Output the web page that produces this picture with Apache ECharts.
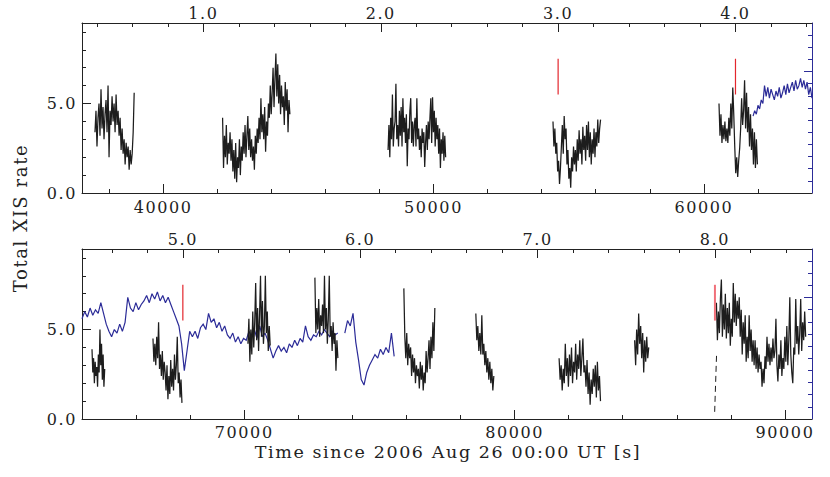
<!DOCTYPE html>
<html><head><meta charset="utf-8">
<script src="https://cdn.jsdelivr.net/npm/echarts@6/dist/echarts.min.js"></script>
<style>html,body{margin:0;padding:0;background:#fff}#c{width:830px;height:477px}#c svg text{letter-spacing:1.6px}</style>
</head><body><div id="c"></div>
<script>
// ---------------- data ----------------
const PERIOD = 6560;          // seconds per phase unit (top axes)
const PHASE1_TIME = 41490;    // time of phase 1.0
const topRange = [37000, 64000];
const botRange = [64000, 91000];
const yRange = [0, 9.5];
const rightRange = [0, 14];

const timeMajorTop = [40000, 50000, 60000];
const timeMinorTop = [38000, 42000, 44000, 46000, 48000, 52000, 54000, 56000, 58000, 62000];
const timeMajorBot = [70000, 80000, 90000];
const timeMinorBot = [66000, 68000, 72000, 74000, 76000, 78000, 82000, 84000, 86000, 88000];
const phaseLabelsTop = [1, 2, 3, 4];
const phaseMinorTop = [0.4, 0.6, 0.8, 1.2, 1.4, 1.6, 1.8, 2.2, 2.4, 2.6, 2.8, 3.2, 3.4, 3.6, 3.8, 4.2, 4.4];
const phaseLabelsBot = [5, 6, 7, 8];
const phaseMinorBot = [4.6, 4.8, 5.2, 5.4, 5.6, 5.8, 6.2, 6.4, 6.6, 6.8, 7.2, 7.4, 7.6, 7.8, 8.2, 8.4];
const yMajor = [0, 5];
const yMinor = [1, 2, 3, 4, 6, 7, 8, 9];
const rightMajor = [10];
const rightMinor = [1, 2, 3, 4, 5, 6, 7, 8, 9, 11, 12, 13];

const markerPhasesTop = [3, 4];
const markerPhasesBot = [5, 8];
const markerRange = [5.5, 7.5];

// black (XIS) segments, top panel: [start, end] and rates
const seg1Span = [37480, 38930];
const seg1 = [3.4, 4.6, 2.6, 4.2, 5.0, 3.2, 5.8, 3.6, 4.8, 3.0, 4.4, 5.2, 3.4, 6.0, 2.0, 4.6, 3.8, 5.4, 4.0, 5.0, 3.4, 5.5, 3.8, 4.6, 3.2, 4.2, 2.4, 3.6, 2.2, 3.0, 1.6, 2.8, 2.0, 2.6, 1.3, 2.4, 1.6, 2.2, 3.4, 5.6];
const seg2Span = [42200, 44690];
const seg2 = [4.2, 1.4, 3.2, 2.0, 3.8, 1.6, 2.8, 2.2, 3.4, 1.8, 3.0, 1.2, 2.4, 0.8, 2.8, 0.6, 2.0, 1.4, 3.0, 1.0, 2.6, 1.8, 3.4, 2.2, 3.8, 2.0, 3.2, 4.3, 2.4, 3.6, 2.0, 3.0, 1.8, 2.6, 1.3, 3.2, 2.2, 3.6, 2.8, 4.2, 3.0, 5.3, 3.4, 4.4, 3.0, 4.8, 2.3, 4.0, 3.2, 5.0, 4.2, 6.0, 4.4, 5.6, 7.0, 4.8, 6.4, 7.8, 5.4, 7.2, 5.0, 6.6, 4.4, 6.0, 4.8, 5.4, 3.8, 6.2, 4.6, 5.8, 3.4, 5.2, 4.4];
const seg3Span = [48320, 50450];
const seg3 = [2.4, 3.8, 2.0, 4.2, 3.0, 5.5, 2.6, 3.6, 4.0, 6.1, 3.0, 3.8, 2.6, 4.6, 3.2, 4.8, 2.6, 5.3, 3.4, 4.2, 2.8, 4.4, 1.5, 3.6, 3.0, 4.6, 5.3, 2.8, 4.0, 2.6, 3.8, 4.2, 2.6, 5.3, 3.0, 3.6, 2.4, 3.2, 2.0, 3.6, 2.8, 3.4, 1.45, 2.8, 3.8, 2.4, 4.0, 3.0, 4.2, 5.3, 2.8, 5.35, 3.4, 4.6, 2.6, 4.2, 3.0, 3.8, 2.2, 3.6, 1.4, 3.0, 2.2, 3.4, 1.8, 3.2, 2.0];
const seg4Span = [54420, 56180];
const seg4 = [4.0, 2.6, 3.6, 2.2, 2.8, 1.2, 1.8, 0.5, 1.4, 2.6, 3.8, 2.2, 4.3, 3.0, 3.6, 1.6, 2.4, 0.8, 1.4, 0.3, 2.0, 1.2, 2.6, 1.6, 2.4, 1.2, 3.0, 1.8, 3.5, 2.2, 3.0, 1.6, 3.7, 2.4, 3.2, 1.8, 3.8, 2.4, 4.0, 2.0, 3.4, 1.6, 3.0, 2.2, 3.6, 2.0, 3.4, 2.6, 4.1, 2.8, 3.6, 4.1];
const seg5Span = [60560, 61980];
const seg5 = [5.0, 3.2, 4.4, 2.8, 3.8, 3.0, 4.0, 2.9, 3.6, 2.8, 4.2, 3.2, 5.0, 3.6, 5.9, 4.4, 2.6, 1.1, 2.0, 0.9, 1.8, 2.5, 3.6, 5.3, 3.8, 4.6, 6.3, 3.6, 5.6, 3.4, 4.8, 2.6, 4.4, 2.4, 3.6, 1.6, 3.4, 1.4, 3.0, 1.6];

// blue curve, top panel
const blueTopSpan = [61820, 64000];
const blueTop = [4.3, 4.6, 4.4, 4.9, 4.7, 5.2, 5.0, 6.0, 5.4, 5.9, 5.3, 5.8, 5.5, 5.2, 5.7, 5.4, 5.9, 5.3, 5.6, 6.0, 5.5, 6.1, 5.6, 5.9, 6.2, 5.7, 6.3, 5.8, 6.0, 6.4, 5.9, 6.3, 5.8, 6.2, 5.5, 5.9, 5.3];

// black segments, bottom panel
const b1Span = [64370, 64840];
const b1 = [3.9, 2.6, 3.4, 2.0, 3.2, 2.4, 2.9, 1.8, 3.6, 2.6, 5.0, 3.0, 4.2, 2.2, 3.6, 1.8, 2.8];
const b2Span = [66625, 67697];
const b2 = [4.5, 3.2, 4.2, 3.0, 4.6, 3.4, 5.4, 2.8, 3.6, 2.4, 3.8, 2.2, 3.2, 2.6, 1.6, 3.0, 1.1, 2.4, 1.4, 3.3, 1.8, 2.8, 1.6, 3.6, 2.2, 3.0, 4.6, 2.0, 2.6, 1.2, 2.2, 0.9];
const b3Span = [70137, 70961];
const b3 = [4.2, 5.6, 3.2, 5.0, 3.6, 6.0, 4.0, 5.4, 7.6, 4.4, 6.2, 3.8, 5.8, 8.0, 4.6, 6.6, 4.2, 5.2, 8.0, 4.8, 6.0, 3.8, 5.2, 4.1];
const b4Span = [72614, 73464];
const b4 = [7.9, 4.8, 6.2, 5.0, 6.7, 4.6, 5.8, 5.2, 6.4, 4.8, 8.0, 5.0, 6.2, 4.2, 5.6, 8.0, 4.6, 5.2, 3.8, 5.4, 4.2, 4.8, 2.7, 4.4, 3.4];
const b5Span = [75904, 77050];
const b5 = [7.3, 4.6, 3.4, 4.8, 3.0, 4.2, 3.4, 4.0, 2.4, 3.6, 2.6, 3.4, 2.0, 3.0, 2.4, 2.8, 1.7, 3.2, 2.2, 3.0, 1.6, 2.6, 2.0, 3.8, 2.6, 3.4, 4.4, 2.8, 4.6, 3.4, 5.4, 3.8, 6.2];
const b6Span = [78566, 79232];
const b6 = [5.9, 4.4, 5.2, 3.8, 4.8, 3.6, 5.8, 3.6, 4.2, 3.0, 3.8, 2.6, 3.4, 2.2, 3.2, 2.0, 2.8, 1.6, 2.4];
const b7Span = [81646, 83177];
const b7 = [3.4, 2.2, 3.0, 1.6, 2.8, 2.0, 4.2, 2.4, 3.4, 1.8, 3.6, 2.4, 4.0, 2.0, 3.2, 2.6, 4.2, 2.2, 3.6, 2.8, 4.4, 2.4, 3.4, 4.5, 2.6, 3.0, 1.8, 3.3, 1.4, 2.6, 0.8, 2.2, 1.4, 2.8, 1.8, 3.0, 1.2, 3.2, 1.6, 2.4, 1.0];
const b8Span = [84440, 84962];
const b8 = [4.4, 3.0, 5.0, 3.6, 5.9, 4.2, 5.2, 3.4, 4.8, 2.6, 4.4, 3.2, 4.6, 3.4, 4.0];
const b9Span = [87465, 90766];
const b9 = [6.5, 4.4, 6.0, 4.8, 6.7, 7.8, 4.6, 6.4, 5.0, 7.0, 4.5, 6.2, 4.8, 6.5, 4.1, 5.6, 4.6, 7.6, 5.4, 7.0, 5.2, 6.6, 5.6, 6.8, 4.6, 6.1, 3.6, 5.4, 4.2, 5.8, 3.2, 4.6, 3.4, 5.8, 3.8, 5.0, 3.2, 4.4, 3.0, 4.4, 2.8, 4.0, 2.6, 3.6, 2.8, 3.2, 1.8, 2.8, 2.0, 3.5, 2.8, 4.6, 3.2, 4.2, 3.0, 4.0, 3.2, 4.5, 3.4, 3.8, 5.6, 3.0, 2.1, 3.6, 2.8, 4.4, 2.4, 3.4, 2.8, 4.6, 3.2, 5.2, 3.0, 4.4, 6.8, 3.6, 2.6, 2.0, 4.0, 3.6, 6.7, 4.2, 5.2, 3.6, 4.8, 6.7, 3.8, 5.4, 4.4, 6.0, 4.6];
// sparse dashed rise at the start of the last segment
const riseSpan = [87400, 87470];
const rise = [0.4, 3.6];

// blue curve, bottom panel
const blueASpan = [64000, 73460];
const blueA = [5.6, 6.0, 5.7, 6.2, 5.8, 6.1, 5.9, 6.5, 5.9, 5.3, 4.9, 4.6, 5.0, 4.8, 5.3, 4.9, 5.4, 6.8, 6.2, 6.0, 6.5, 6.1, 6.4, 6.6, 6.9, 6.5, 7.0, 6.7, 7.1, 6.6, 6.9, 6.5, 6.8, 6.4, 6.0, 5.6, 5.2, 4.2, 2.7, 3.8, 4.9, 4.6, 4.9, 4.5, 5.1, 5.3, 5.0, 5.9, 5.4, 5.6, 5.1, 5.4, 4.9, 5.2, 4.7, 4.5, 4.8, 4.3, 4.6, 4.2, 4.5, 4.4, 4.9, 4.6, 5.0, 4.5, 5.2, 4.6, 4.8, 4.4, 3.9, 3.4, 3.8, 4.1, 3.8, 4.0, 3.7, 4.2, 4.0, 4.4, 4.1, 4.5, 4.3, 5.2, 4.6, 4.4, 4.7, 4.6, 4.9, 4.7, 5.0, 4.8, 4.6, 4.9, 4.7, 4.8];
const blueBSpan = [73720, 75546];
const blueB = [4.8, 5.5, 5.2, 5.9, 4.3, 3.3, 2.2, 1.9, 2.6, 3.0, 3.3, 3.6, 3.4, 3.9, 3.6, 4.0, 3.7, 4.8, 3.5];

// ---------------- build ----------------
const BLACK = '#1d1d1d', BLUE = '#2c2c98', RED = '#e3262d', FRAME = '#222';
const FONT = 'DejaVu Serif';
const phaseToTime = p => PHASE1_TIME + (p - 1) * PERIOD;
const timeToPhase = t => (t - PHASE1_TIME) / PERIOD + 1;

function seg(span, vals, xi, yi, color, width, dashed) {
  const n = vals.length;
  return {
    type: 'line', xAxisIndex: xi, yAxisIndex: yi, symbol: 'none', silent: true,
    data: vals.map((v, i) => [span[0] + (span[1] - span[0]) * i / (n - 1), v]),
    lineStyle: { color, width, type: dashed ? [6, 4] : 'solid', join: 'miter', miterLimit: 2 }
  };
}
function marker(p, xi, yi, color, width) {
  const t = phaseToTime(p);
  return { type: 'line', xAxisIndex: xi, yAxisIndex: yi, symbol: 'none', silent: true,
    data: [[t, markerRange[0]], [t, markerRange[1]]], lineStyle: { color, width } };
}

const grids = [
  { left: 82, top: 23, width: 730, height: 170 },
  { left: 82, top: 249, width: 730, height: 170 }
];
const labelStyle = { fontFamily: FONT, fontSize: 16, color: '#222' };
const MAJ = 9, MIN = 4;

// an axis that only draws inward ticks: shifted inward by the tick length, ticks pointing back outward
function tickAxis(base, values, len, color) {
  return Object.assign({}, base, { offset: -len, axisLine: { show: false, onZero: false },
    axisTick: { show: true, length: len, customValues: values, lineStyle: { color: color || FRAME } },
    axisLabel: { show: false } });
}
function lineAxis(base, color, labels, fmt, margin) {
  return Object.assign({}, base, {
    axisLine: { show: true, onZero: false, lineStyle: { color: color || FRAME, width: 1 } },
    axisTick: { show: false },
    axisLabel: labels ? Object.assign({ show: true, customValues: labels, margin, formatter: fmt }, labelStyle) : { show: false } });
}

function xAxesFor(gi, range, major, minor, phLab, phMin, bMargin) {
  const b = { type: 'value', gridIndex: gi, min: range[0], max: range[1], splitLine: { show: false }, position: 'bottom' };
  const t = Object.assign({}, b, { position: 'top' });
  const phLabT = phLab.map(phaseToTime), phMinT = phMin.map(phaseToTime);
  return [
    lineAxis(b, FRAME, major, v => String(Math.round(v)), bMargin),
    tickAxis(b, major, MAJ),
    tickAxis(b, minor, MIN),
    lineAxis(t, FRAME, phLabT, v => timeToPhase(v).toFixed(1), 2),
    tickAxis(t, phLabT, MAJ),
    tickAxis(t, phMinT, MIN)
  ];
}
function yAxesFor(gi) {
  const l = { type: 'value', gridIndex: gi, min: yRange[0], max: yRange[1], splitLine: { show: false }, position: 'left' };
  const r = { type: 'value', gridIndex: gi, min: rightRange[0], max: rightRange[1], splitLine: { show: false }, position: 'right' };
  return [
    lineAxis(l, FRAME, yMajor, v => v.toFixed(1), 5),
    tickAxis(l, yMajor, MAJ),
    tickAxis(l, yMinor, MIN),
    lineAxis(r, BLUE, null),
    tickAxis(r, rightMinor, MIN, BLUE),
    tickAxis(r, rightMajor, 8, BLUE)
  ];
}

const xAxis = [].concat(
  xAxesFor(0, topRange, timeMajorTop, timeMinorTop, phaseLabelsTop, phaseMinorTop, 6),
  xAxesFor(1, botRange, timeMajorBot, timeMinorBot, phaseLabelsBot, phaseMinorBot, 5));
const yAxis = [].concat(yAxesFor(0), yAxesFor(1));
const XT = 0, YT = 0, XB = 6, YB = 6;
const BW = 1.25;

const series = [
  seg(blueTopSpan, blueTop, XT, YT, BLUE, 1.2),
  seg(seg1Span, seg1, XT, YT, BLACK, BW),
  seg(seg2Span, seg2, XT, YT, BLACK, BW),
  seg(seg3Span, seg3, XT, YT, BLACK, BW),
  seg(seg4Span, seg4, XT, YT, BLACK, BW),
  seg(seg5Span, seg5, XT, YT, BLACK, BW),
  seg(blueASpan, blueA, XB, YB, BLUE, 1.2),
  seg(blueBSpan, blueB, XB, YB, BLUE, 1.2),
  seg(b1Span, b1, XB, YB, BLACK, BW),
  seg(b2Span, b2, XB, YB, BLACK, BW),
  seg(b3Span, b3, XB, YB, BLACK, BW),
  seg(b4Span, b4, XB, YB, BLACK, BW),
  seg(b5Span, b5, XB, YB, BLACK, BW),
  seg(b6Span, b6, XB, YB, BLACK, BW),
  seg(b7Span, b7, XB, YB, BLACK, BW),
  seg(b8Span, b8, XB, YB, BLACK, BW),
  seg(b9Span, b9, XB, YB, BLACK, BW),
  seg(riseSpan, rise, XB, YB, BLACK, 1, true)
].concat(
  markerPhasesTop.map(p => marker(p, XT, YT, RED, 1.2)),
  markerPhasesBot.map((p, i) => marker(p, XB, YB, i === markerPhasesBot.length - 1 ? '#f0707a' : RED, i === markerPhasesBot.length - 1 ? 2 : 1.2))
);

const chart = echarts.init(document.getElementById('c'), null, { renderer: 'svg' });
chart.setOption({
  animation: false,
  backgroundColor: '#fff',
  grid: grids,
  xAxis, yAxis, series,
  graphic: [
    { type: 'text', x: 20, y: 218, rotation: Math.PI / 2,
      style: { text: 'Total XIS rate', fontFamily: FONT, fontSize: 18, fill: '#222', align: 'center', verticalAlign: 'middle' } },
    { type: 'text', x: 448, y: 452,
      style: { text: 'Time since 2006 Aug 26 00:00 UT [s]', fontFamily: FONT, fontSize: 17.5, fill: '#222', align: 'center', verticalAlign: 'middle' } }
  ]
});
</script></body></html>
